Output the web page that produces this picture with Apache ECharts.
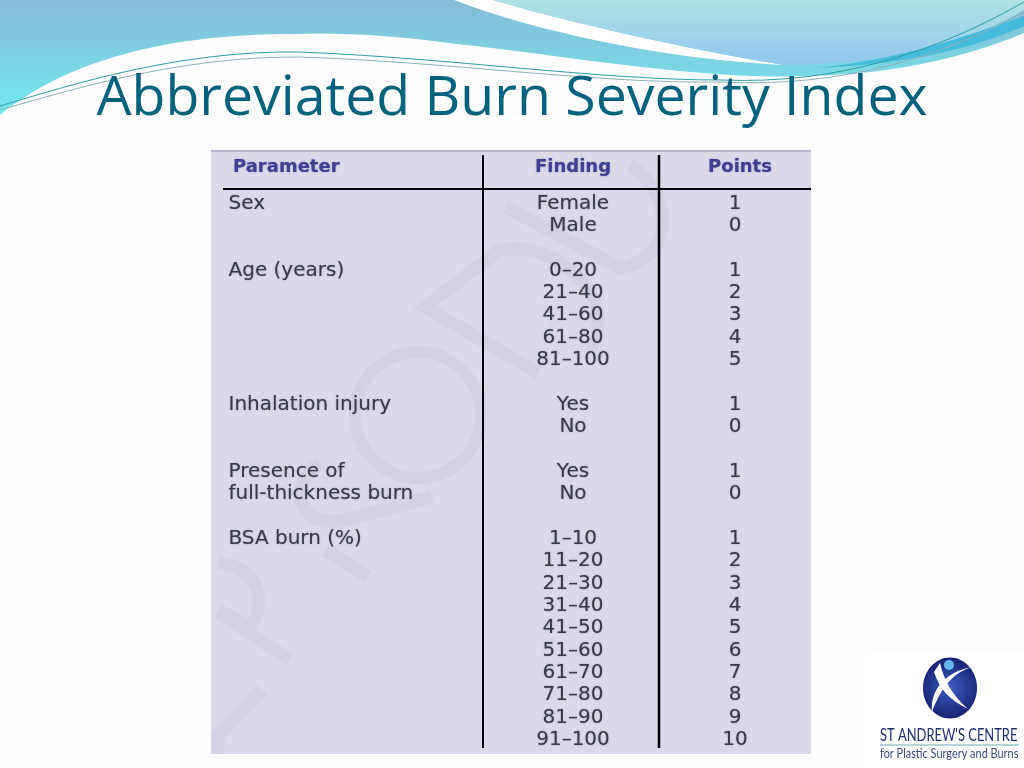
<!DOCTYPE html>
<html><head><meta charset="utf-8">
<style>html,body{margin:0;padding:0;background:#fdfdfe}#c{width:1024px;height:768px}</style>
<script src="https://cdn.jsdelivr.net/npm/echarts@6/dist/echarts.min.js"></script>
</head><body><div id="c"></div>
<script>
var titleText = 'Abbreviated Burn Severity Index';
var headers = ['Parameter', 'Finding', 'Points'];
var rowIds = ['r0','r1','r2','r3','r4','r5','r6','r7','r8','r9','r10','r11','r12','r13','r14','r15','r16','r17','r18','r19','r20','r21','r22','r23','r24'];
var parameters = ['Sex','','','Age (years)','','','','','','Inhalation injury','','','Presence of','full-thickness burn','','BSA burn (%)','','','','','','','','',''];
var findings = ['Female','Male','','0–20','21–40','41–60','61–80','81–100','','Yes','No','','Yes','No','','1–10','11–20','21–30','31–40','41–50','51–60','61–70','71–80','81–90','91–100'];
var points = [1,0,null,1,2,3,4,5,null,1,0,null,1,0,null,1,2,3,4,5,6,7,8,9,10];

var bodyFont = 'DejaVu Sans', bodyColor = '#3a3a4e', headColor = '#40408f';
var rowH = 22.35, gridTop = 203.5 - rowH / 2, gridH = rowH * 25;

function column(i, values, left, width, align, pad) {
  return {
    grid: { left: left, width: width, top: gridTop, height: gridH, containLabel: false, show: false },
    xAxis: { gridIndex: i, type: 'category', data: [headers[i]], position: 'top', z: 10,
      axisLine: { show: false }, axisTick: { show: false }, offset: 0,
      axisLabel: { show: true, interval: 0, margin: 16, align: align, padding: pad,
        fontFamily: bodyFont, fontWeight: 'bold', fontSize: 18, color: headColor,
        textShadowColor: '#7a7ab8', textShadowBlur: 1.5 } },
    yAxis: { gridIndex: i, type: 'category', data: rowIds, inverse: true, show: false },
    series: { type: 'scatter', xAxisIndex: i, yAxisIndex: i, symbolSize: 1, silent: true, z: 10,
      itemStyle: { color: 'transparent' },
      data: values.map(function (v, r) { return (v === '' || v === null) ? null : [0, r, v]; }).filter(Boolean),
      label: { show: true, position: align === 'left' ? 'right' : 'inside', distance: 0, opacity: 1,
        formatter: function (p) { return String(p.data[2]); },
        fontFamily: bodyFont, fontSize: 20, color: bodyColor,
        textShadowColor: '#8a8aa8', textShadowBlur: 1.5 } }
  };
}
var cols = [
  column(0, parameters, 227, 2, 'left', [0,0,0,5]),
  column(1, findings, 483, 180, 'center', 0),
  column(2, points, 659, 152, 'center', [0,0,0,10])
];

var pid = 0;
function shape(d, style, z) {
  var n = 'svgShape' + (pid++);
  echarts.graphic.registerShape(n, echarts.graphic.extendPath(d, {}));
  return { type: n, z: z, style: style };
}
var wmColor = '#d3d1e3';
function wm(d) { return shape(d, { fill: 'none', stroke: wmColor, lineWidth: 13 }, 3); }
function ln(x1,y1,x2,y2,w,c,z){ return { type:'line', z:z||6, shape:{x1:x1,y1:y1,x2:x2,y2:y2}, style:{stroke:c||'#000',lineWidth:w} }; }
function area(d, fill, z){ return shape(d, {fill:fill}, z||1); }
function grad(a,b){ return new echarts.graphic.LinearGradient(0,0,0,1,[{offset:0,color:a},{offset:1,color:b}]); }

var graphics = [
  area('M0 0 L1024 0 L1024 33 C960 60 880 76 800 76 C700 80 560 55 457 44 C400 36 340 32 294 34 C220 34 90 42 0 115 Z', grad('#86bbd6','#72e9ee')),
  area('M454 0 L493 0 C560 20 680 48 784 65 C640 58 510 22 454 0 Z', '#ffffff', 2),
  area('M493 0 L1024 0 L1024 10 C960 48 880 64 784 65 C680 48 560 20 493 0 Z', grad('#aee2e4','#92c6ef'), 2),
  area('M816 68 C900 60 970 35 1024 16 L1024 26 C970 50 900 65 816 68 Z', '#46bcdd', 3),
  shape('M0 106 C70 85 180 50 300 52 C450 58 600 80 720 80 C840 85 940 50 1024 2', {fill:'none',stroke:'#2f9fa5',lineWidth:1}, 4),
  shape('M0 110 C70 90 180 56 300 57 C450 62 600 84 720 82 C840 88 940 58 1024 12', {fill:'none',stroke:'#8fb0b8',lineWidth:1}, 4),
  { type:'rect', z:2, shape:{x:211,y:151,width:600,height:603}, style:{fill:'#dad8e9'} },
  { type:'rect', z:3, shape:{x:211,y:150,width:600,height:2}, style:{fill:'#b9b5cd'} },
  wm('M218 563 C250 565 272 595 250 627 L218 610'),
  wm('M218 612 L290 660'),
  wm('M262 690 L218 735 L218 754'),
  wm('M432 497 L345 520 C300 530 285 490 320 462'),
  wm('M325 550 L368 577'),
  { type:'circle', z:3, shape:{cx:418,cy:415,r:63}, style:{fill:'none',stroke:wmColor,lineWidth:12} },
  wm('M538 373 L425 307 L500 250 C560 240 620 300 590 350'),
  wm('M506 207 L620 268 C670 260 680 200 630 165'),
  ln(223,189,811,189,2),
  ln(483,155,483,748,2),
  ln(659,155,659,748,2.5),
  { type:'rect', z:5, shape:{x:866,y:652,width:158,height:116}, style:{fill:'#ffffff'} },
  { type:'ellipse', z:6, shape:{cx:950,cy:688,rx:27,ry:30.5}, style:{fill:new echarts.graphic.RadialGradient(0.5,0.5,0.6,[{offset:0,color:'#3a5cc0'},{offset:1,color:'#16206e'}])} },
  area('M940 663 C944 680 952 695 968 709 C950 700 940 690 934 672 Z', '#ffffff', 7),
  area('M972 667 C955 672 942 685 932 712 C930 690 945 672 972 667 Z', '#ffffff', 7),
  { type:'circle', z:8, shape:{cx:949,cy:665,r:5}, style:{fill:'#64b8ee'} },
  { type:'text', z:8, x:880, y:727, scaleX:0.76, style:{text:"ST ANDREW'S CENTRE", fontFamily:'Lato', fontSize:17, fontWeight:'normal', fill:'#21306f'} },
  ln(880,745,1019,745,1,'#6aa9b5',8),
  { type:'text', z:8, x:880, y:747, scaleX:0.84, style:{text:'for Plastic Surgery and Burns', fontFamily:'Lato', fontSize:13, fill:'#3a4b78'} }
];

var chart = echarts.init(document.getElementById('c'), null, { renderer: 'canvas' });
chart.setOption({
  animation: false,
  backgroundColor: '#fdfdfe',
  title: { text: titleText, left: 'center', top: 67, z: 10, textStyle: { fontFamily: 'Open Sans', fontWeight: 'normal', fontSize: 55.4, color: '#05627c' } },
  grid: cols.map(function (c) { return c.grid; }),
  xAxis: cols.map(function (c) { return c.xAxis; }),
  yAxis: cols.map(function (c) { return c.yAxis; }),
  series: cols.map(function (c) { return c.series; }),
  graphic: { elements: graphics }
});
</script></body></html>
